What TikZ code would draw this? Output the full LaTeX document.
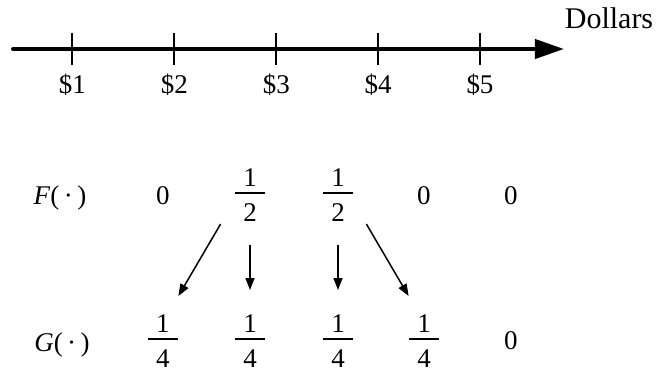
\documentclass[tikz,border=0pt]{standalone}
\usepackage{fontspec}
\setmainfont{Liberation Serif}
\usetikzlibrary{arrows.meta}
\newcommand\myfr[2]{\vbox{\hbox to 15pt{\hfil#1\hfil}\kern3pt\hrule height 0.8pt\kern5pt\hbox to 15pt{\hfil#2\hfil}}}
\begin{document}
\begin{tikzpicture}[x=0.5pt,y=-0.5pt,
  every node/.style={inner sep=0pt, font=\fontsize{13.5}{16}\selectfont},
  axisline/.style={line width=2pt, line cap=round, -{Triangle[length=14.5pt,width=9.5pt]}},
  tickline/.style={line width=1pt},
  arr/.style={line width=0.75pt, -{Triangle[length=6pt,width=4.5pt]}},
  lab/.style={anchor=base}]
\useasboundingbox (0,0) rectangle (661,375);
% axis
\coordinate (ax0) at (13,49);
\coordinate (ax1) at (564,49);
\draw[axisline] (ax0) -- (ax1);
\foreach \i/\x in {1/72.5,2/174.4,3/276.3,4/378.2,5/480} {
  \draw[tickline] (\x,33) -- (\x,65);
  \node[lab] (d\i) at (\x,93) {\$\i};
}
\node[lab, font=\fontsize{15}{18}\selectfont] (dol) at (609,28) {Dollars};
% F row
\node[lab] (F) at (60,205) {\textit{F}(\,·\,)};
\node[lab] (f1) at (163,205) {0};
\node (f2) at (250,195) {\myfr{1}{2}};
\node (f3) at (338,195) {\myfr{1}{2}};
\node[lab] (f4) at (424,205) {0};
\node[lab] (f5) at (511,205) {0};
% G row
\node[lab] (G) at (62,351) {\textit{G}(\,·\,)};
\node (g1) at (163,341) {\myfr{1}{4}};
\node (g2) at (250,341) {\myfr{1}{4}};
\node (g3) at (338,341) {\myfr{1}{4}};
\node (g4) at (424,341) {\myfr{1}{4}};
\node[lab] (g5) at (511,350) {0};
% arrows
\draw[arr] ([shift={(-14,2)}]f2.south west) -- ([shift={(0,-18)}]g1.north east);
\draw[arr] ([shift={(0,23)}]f2.south) -- ([shift={(0,-24)}]g2.north);
\draw[arr] ([shift={(0,23)}]f3.south) -- ([shift={(0,-24)}]g3.north);
\draw[arr] ([shift={(13,2)}]f3.south east) -- ([shift={(0,-18)}]g4.north west);
\end{tikzpicture}
\end{document}
